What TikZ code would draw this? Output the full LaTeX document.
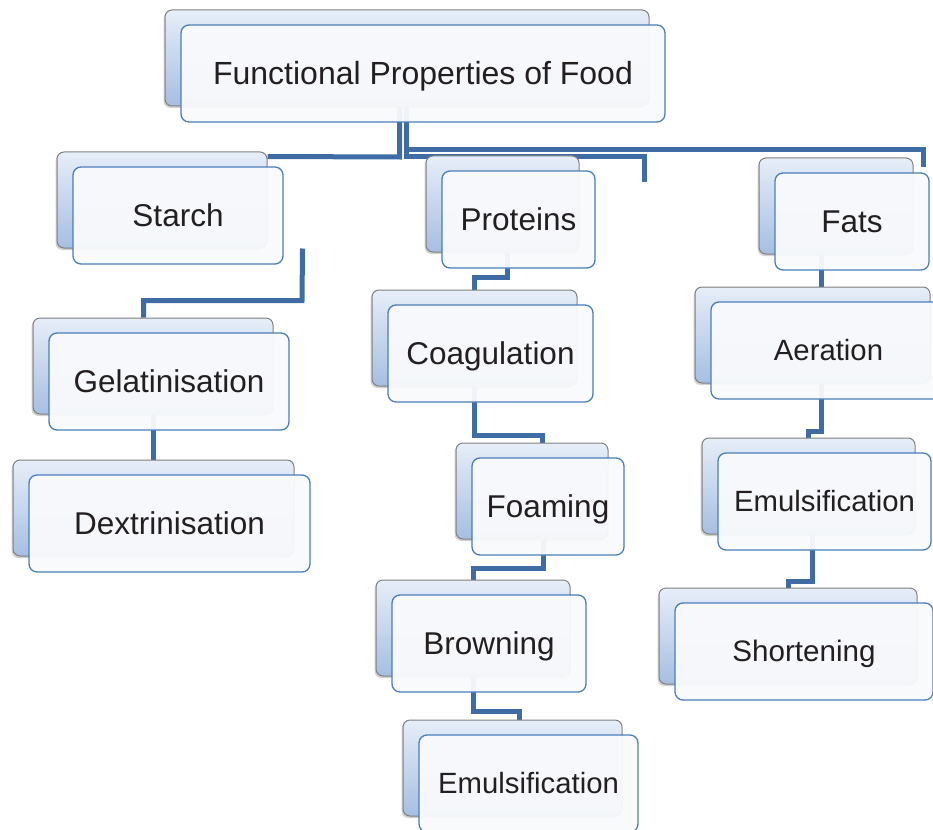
\documentclass[tikz,border=0pt]{standalone}
\usepackage{fontspec}
\setmainfont{Liberation Sans}
\usetikzlibrary{shadows}

\definecolor{linkblue}{HTML}{3F6CA4}
\definecolor{frameblue}{HTML}{4A7EBB}
\definecolor{shadetop}{HTML}{E6EEF8}
\definecolor{shadebot}{HTML}{A6BEE2}
\definecolor{paper}{HTML}{F9FAFC}
\definecolor{inkgray}{HTML}{231F20}

\pgfdeclarelayer{bg}
\pgfsetlayers{bg,main}

\tikzset{
  backbox/.style={draw=black!50, line width=1pt, rounded corners=7pt,
    top color=shadetop, bottom color=shadebot, minimum height=96pt, inner sep=0pt,
    drop shadow={shadow xshift=-1.5pt, shadow yshift=-2pt, opacity=0.3, fill=black!60}},
  frontbox/.style={draw=frameblue, line width=1.3pt, rounded corners=8pt,
    fill=paper, fill opacity=0.95, text opacity=1, text=inkgray,
    minimum height=97pt, inner sep=0pt},
  link/.style={draw=linkblue, line width=5pt, line join=miter},
}

% #1 name, #2 left x, #3 top y, #4 width, #5 font size, #6 label
\newcommand\fpair[6]{%
  \node[backbox, minimum width=#4pt] (#1-b) at ({#2+#4/2},{#3+48}) {};
  \node[frontbox, minimum width=#4pt, font=\fontsize{#5}{#5}\selectfont]
    (#1) at ({#2+#4/2+16},{#3+63.5}) {\smash{#6}\vphantom{H}};
}

\begin{document}
\begin{tikzpicture}[x=1pt,y=-1pt]
\useasboundingbox (0,0) rectangle (933,829);

\fpair{top}{165}{10}{484}{32}{Functional Properties of Food}
\fpair{starch}{57}{152}{210}{31.5}{Starch}
\fpair{gel}{33}{318}{240}{31.5}{Gelatinisation}
\fpair{dex}{13}{460}{281}{31.5}{Dextrinisation}
\fpair{prot}{426}{156}{153}{31.5}{Proteins}
\fpair{coag}{372}{290}{205}{31.5}{Coagulation}
\fpair{foam}{456}{443}{152}{31.5}{Foaming}
\fpair{brown}{376}{580}{194}{31.5}{Browning}
\fpair{emp}{403}{720}{219}{29.3}{Emulsification}
\fpair{fats}{759}{158}{154}{31.5}{Fats}
\fpair{aer}{695}{287}{235}{29.3}{Aeration}
\fpair{emf}{702}{438}{213}{29.3}{Emulsification}
\fpair{short}{659}{588}{258}{29.6}{Shortening}

\coordinate (protstub) at (644,182);
\coordinate (fatstub) at (923,167);

\begin{pgfonlayer}{bg}
  % branches from the title box
  \draw[link] ([xshift=-7.5pt]top-b.south) -- (399.5,157) -- ([yshift=-5pt]starch-b.north east);
  \draw[link] ([xshift=-1pt]top-b.south) -- (406,157) -- (644,157) -- (protstub);
  \draw[link] ([xshift=-1pt]top-b.south) -- (406,150) -- (923,150) -- (fatstub);
  % starch column
  \draw[link] ([xshift=35pt]starch-b.south east) -- (302,300.5) -- (143.5,300.5) -- ([xshift=-9.5pt]gel-b.north);
  \draw[link] (gel-b.south) -- (gel-b.south |- dex-b.north);
  % protein column
  \draw[link] ([xshift=5pt]prot-b.south) -- (507.5,277) -- (474.5,277) -- (coag-b.north);
  \draw[link] (coag-b.south) -- (474.5,435.5) -- (542.5,435.5) -- ([xshift=10.5pt]foam-b.north);
  \draw[link] ([xshift=11pt]foam-b.south) -- (543,568.5) -- (473,568.5) -- (brown-b.north);
  \draw[link] (brown-b.south) -- (473,711.5) -- (519.5,711.5) -- ([xshift=7pt]emp-b.north);
  % fat column
  \draw[link] ([xshift=-14.5pt]fats-b.south) -- ([xshift=9pt]aer-b.north);
  \draw[link] ([xshift=9pt]aer-b.south) -- (821.5,431) -- (808.5,431) -- (emf-b.north);
  \draw[link] ([xshift=4pt]emf-b.south) -- (812.5,581.5) -- (788,581.5) -- (short-b.north);
\end{pgfonlayer}
\end{tikzpicture}
\end{document}
